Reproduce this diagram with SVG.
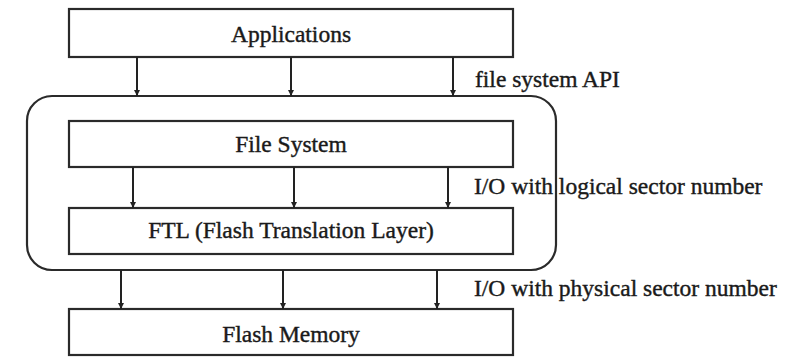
<svg xmlns="http://www.w3.org/2000/svg" width="807" height="357" viewBox="0 0 807 357">
  <style>
    .box { fill: #fff; stroke: #2a2a2a; stroke-width: 2.2; }
    .group { fill: none; stroke: #2a2a2a; stroke-width: 2.2; }
    .label { font-size: 23.5px; fill: #1a1a1a; stroke: #1a1a1a; stroke-width: 0.4; }
    .center { text-anchor: middle; }
    .conn { stroke: #222; stroke-width: 2; fill: none; marker-end: url(#arrow); }
  </style>
  <defs>
    <marker id="arrow" viewBox="0 0 10 10" refX="10" refY="5" markerWidth="6" markerHeight="6" markerUnits="userSpaceOnUse" orient="auto">
      <path d="M0,0 L10,5 L0,10 z" fill="#222"/>
    </marker>
  </defs>

  <rect width="807" height="357" fill="#fff"/>

  <!-- OS layer enclosing the file system and the FTL -->
  <g id="os-layer">
    <rect class="group" x="27" y="96" width="529" height="174" rx="25" ry="25"/>
  </g>

  <g font-family="Liberation Serif, DejaVu Serif, serif">
    <g id="applications">
      <rect class="box" x="69" y="9" width="444" height="48"/>
      <text class="label center" x="291" y="42">Applications</text>
    </g>

    <g id="file-system">
      <rect class="box" x="69" y="121" width="444" height="46"/>
      <text class="label center" x="291" y="152">File System</text>
    </g>

    <g id="ftl">
      <rect class="box" x="69" y="208" width="444" height="46"/>
      <text class="label center" x="291" y="238">FTL (Flash Translation Layer)</text>
    </g>

    <g id="flash-memory">
      <rect class="box" x="69" y="309" width="444" height="46"/>
      <text class="label center" x="291" y="342">Flash Memory</text>
    </g>

    <g id="interface-labels">
      <text class="label" x="475" y="87">file system API</text>
      <text class="label" x="474" y="194">I/O with logical sector number</text>
      <text class="label" x="474" y="296">I/O with physical sector number</text>
    </g>
  </g>

  <g id="connectors">
    <!-- applications to file system (API calls) -->
    <line class="conn" x1="137" y1="57" x2="137" y2="96"/>
    <line class="conn" x1="291" y1="57" x2="291" y2="96"/>
    <line class="conn" x1="453" y1="57" x2="453" y2="96"/>
    <!-- file system to FTL (logical sectors) -->
    <line class="conn" x1="133" y1="167" x2="133" y2="208"/>
    <line class="conn" x1="294" y1="167" x2="294" y2="208"/>
    <line class="conn" x1="448" y1="167" x2="448" y2="208"/>
    <!-- FTL to flash memory (physical sectors) -->
    <line class="conn" x1="121" y1="270" x2="121" y2="309"/>
    <line class="conn" x1="283" y1="270" x2="283" y2="309"/>
    <line class="conn" x1="437" y1="270" x2="437" y2="309"/>
  </g>
</svg>
